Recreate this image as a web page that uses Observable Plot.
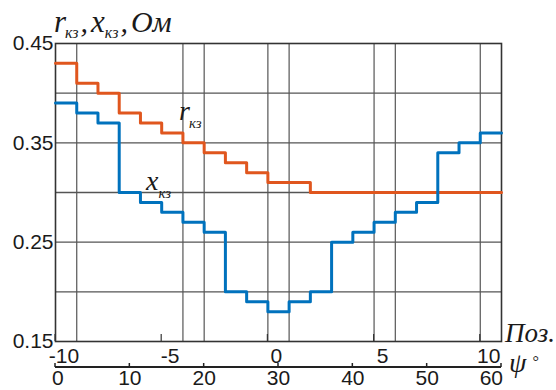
<!DOCTYPE html>
<html><head><meta charset="utf-8">
<script src="https://cdn.jsdelivr.net/npm/d3@7"></script>
<script src="https://cdn.jsdelivr.net/npm/@observablehq/plot@0.6"></script>
<style>body{margin:0;background:#fff}#chart{width:556px;height:390px}</style>
</head><body><div id="chart"></div>
<script>
// Tap positions (Поз.) -10..10 and the step values
const positions = [-10,-9,-8,-7,-6,-5,-4,-3,-2,-1,0,1,2,3,4,5,6,7,8,9,10];
const rValues = [0.43,0.41,0.40,0.38,0.37,0.36,0.35,0.34,0.33,0.32,0.31,0.31,0.30,0.30,0.30,0.30,0.30,0.30,0.30,0.30,0.30];
const xValues = [0.39,0.38,0.37,0.30,0.29,0.28,0.27,0.26,0.20,0.19,0.18,0.19,0.20,0.25,0.26,0.27,0.28,0.29,0.34,0.35,0.36];
const posEnd = 11;                    // right edge of the last step
const yTickLabels = [0.15,0.25,0.35,0.45];
const yGrid = [0.20,0.25,0.30,0.35,0.40];
const xGrid = [-9,-4,-3,0,1,5,6,10];
const posTicks = [-10,-5,0,5,10];
const psiTicks = [0,10,20,30,40,50,60];
const psiToPos = psi => -10 + psi * (posEnd + 10) / 60;

function steps(vals){
  const rows = positions.map((p,i)=>({p, v: vals[i]}));
  rows.push({p: posEnd, v: vals[vals.length-1]});
  return rows;
}

const sans = "'Liberation Sans', Arial, sans-serif";
const serif = "'Liberation Serif', 'Times New Roman', serif";

const plot = Plot.plot({
  width: 556, height: 390,
  marginLeft: 55, marginRight: 55, marginTop: 43, marginBottom: 49,
  style: {fontFamily: sans, fontSize: "21px", color: "#1a1a1a", background: "#fff", overflow: "visible"},
  x: {domain: [-10, posEnd]},
  y: {domain: [0.15, 0.45]},
  marks: [
    Plot.ruleY(yGrid, {stroke: "#555", strokeWidth: 1.3}),
    Plot.ruleX(xGrid, {stroke: "#555", strokeWidth: 1.2}),
    Plot.frame({stroke: "#333", strokeWidth: 1.6}),
    Plot.axisY(yTickLabels, {tickSize: 0, tickPadding: 2, tickFormat: d3.format(".2f"), label: null, fontSize: 21}),
    Plot.axisX(posTicks, {tickSize: 0, tickPadding: 7, dx: 8.5, label: null, fontSize: 21, tickFormat: d => String(d)}),
    Plot.text(psiTicks.slice(0,1), {x: psiToPos, text: d => String(d), frameAnchor: "bottom", lineAnchor: "top", dy: 29, textAnchor: "start", dx: -3.5, fontSize: 21, fill: "#1a1a1a"}),
    Plot.text(psiTicks.slice(1,-1), {x: psiToPos, text: d => String(d), frameAnchor: "bottom", lineAnchor: "top", dy: 29, fontSize: 21, fill: "#1a1a1a"}),
    Plot.text(psiTicks.slice(-1), {x: psiToPos, text: d => String(d), frameAnchor: "bottom", lineAnchor: "top", dy: 29, textAnchor: "end", dx: 1.5, fontSize: 21, fill: "#1a1a1a"}),
    Plot.line(steps(rValues), {x: "p", y: "v", curve: "step-after", stroke: "#E0561E", strokeWidth: 3}),
    Plot.line(steps(xValues), {x: "p", y: "v", curve: "step-after", stroke: "#0072BD", strokeWidth: 3})
  ]
});
document.getElementById("chart").appendChild(plot);

// second (ψ) axis line and ticks, and inner position ticks, via the plot's x scale
const sx = plot.scale("x");
const sy = plot.scale("y");
const svg = d3.select(plot);
const bottom = sy.apply(0.15);
const axisY2 = bottom + 26;
svg.append("line").attr("x1", sx.apply(-10)).attr("x2", sx.apply(posEnd))
  .attr("y1", axisY2).attr("y2", axisY2).attr("stroke", "#222").attr("stroke-width", 2);
svg.selectAll(".psitick").data(psiTicks).join("line")
  .attr("x1", d => sx.apply(psiToPos(d))).attr("x2", d => sx.apply(psiToPos(d)))
  .attr("y1", axisY2).attr("y2", axisY2 - 4).attr("stroke", "#222").attr("stroke-width", 1.5);
svg.selectAll(".postick").data(posTicks).join("line")
  .attr("x1", d => sx.apply(d)).attr("x2", d => sx.apply(d))
  .attr("y1", bottom).attr("y2", bottom - 7).attr("stroke", "#333").attr("stroke-width", 1.2);

// text labels
function label(x, y, parts){
  const t = svg.append("text").attr("x", x).attr("y", y).attr("text-anchor", "start")
    .attr("font-family", serif).attr("font-style", "italic").attr("fill", "#1a1a1a");
  parts.forEach(([s, size, dy, dx]) => {
    t.append("tspan").attr("font-size", size).attr("dy", dy || 0).attr("dx", dx || 0).text(s);
  });
}
label(54, 32, [["r",31],["кз",16,6,-1],[",",30,-6,2],["x",31,0,3],["кз",16,6,0],[",",30,-6,2],["Ом",30,0,3]]);
label(179, 120, [["r",28],["кз",15,8,-1]]);
label(146, 190, [["x",28],["кз",15,8,0]]);
label(505, 342, [["Поз.",27]]);
label(509, 372, [["ψ",28]]);
label(532, 367, [["°",16]]);
</script>
</body></html>
